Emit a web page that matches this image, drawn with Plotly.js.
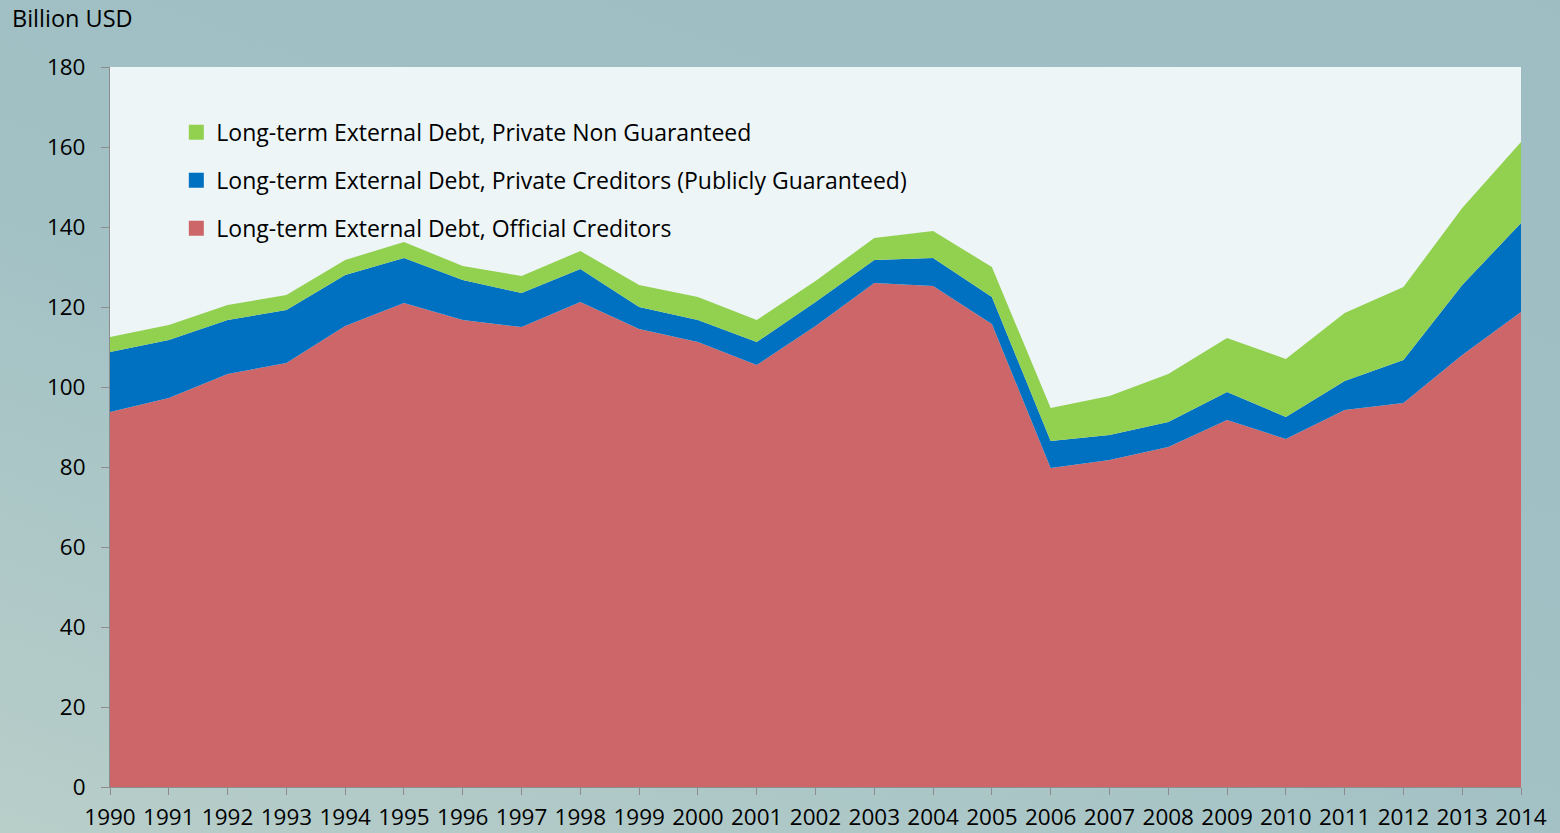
<!DOCTYPE html>
<html>
<head>
<meta charset="utf-8">
<script src="https://cdn.plot.ly/plotly-3.0.1.min.js"></script>
<style>
html,body{margin:0;padding:0;}
body{width:1560px;height:833px;background:linear-gradient(200deg,#9dbdc3 0%,#a2c1c5 55%,#b8cec9 100%);}
#chart{width:1560px;height:833px;}
</style>
</head>
<body>
<div id="chart"></div>
<script>
const years = [1990,1991,1992,1993,1994,1995,1996,1997,1998,1999,2000,2001,2002,2003,2004,2005,2006,2007,2008,2009,2010,2011,2012,2013,2014];
const officialCreditors = [93.75,97.25,103.25,106,115.25,121,116.75,115,121.25,114.5,111.25,105.5,115.25,126,125.25,115.75,79.75,81.75,85,91.75,87,94.25,96,108,118.75];
const privateCreditorsPG = [15,14.5,13.5,13.25,12.75,11.25,10,8.5,8.25,5.5,5.5,5.75,6,5.75,7,6.75,6.75,6.25,6.25,7,5.5,7.25,10.75,17.5,22.25];
const privateNonGuaranteed = [3.75,3.75,3.75,3.75,3.75,4,3.5,4.25,4.5,5.5,5.75,5.5,5.25,5.5,6.75,7.5,8.25,9.75,12,13.5,14.5,17,18.25,19.25,20.25];
const seriesNames = [
  "Long-term External Debt, Official Creditors",
  "Long-term External Debt, Private Creditors (Publicly Guaranteed)",
  "Long-term External Debt, Private Non Guaranteed"
];
const seriesColors = ["#cd6668","#0070c0","#92d050"];
const yTicks = [0,20,40,60,80,100,120,140,160,180];

const dataSets = [officialCreditors, privateCreditorsPG, privateNonGuaranteed];
const traces = dataSets.map((vals,i)=>({
  type:'scatter', mode:'lines', x:years, y:vals, name:seriesNames[i],
  stackgroup:'one', showlegend:false,
  line:{width:0,color:seriesColors[i]}, fillcolor:seriesColors[i]
}));
// legend entries with square keys (top to bottom: green, blue, red)
[2,1,0].forEach((i,k)=>{
  traces.push({type:'scatter', mode:'markers', x:[null], y:[null], name:seriesNames[i],
    legendgroup:'g'+k, showlegend:true,
    marker:{symbol:'square', size:15, color:seriesColors[i], line:{width:0}}});
});

const fontFam = "Open Sans, Liberation Sans, sans-serif";
const layout = {
  width:1560, height:833,
  margin:{l:110, r:39, t:67, b:46},
  paper_bgcolor:'rgba(0,0,0,0)',
  plot_bgcolor:'#edf5f7',
  font:{family:fontFam, size:23, color:'#000'},
  showlegend:true,
  legend:{x:0.047, y:0.939, xanchor:'left', yanchor:'top', bgcolor:'rgba(0,0,0,0)',
    traceorder:'grouped', tracegroupgap:15, font:{size:23, family:fontFam}, itemwidth:30},
  xaxis:{range:[1990,2014], tickmode:'array', tickvals:years, ticktext:years.map(String),
    showgrid:false, zeroline:false, showline:true, linecolor:'#8c8c8c', linewidth:1,
    ticks:'outside', ticklen:7, tickcolor:'#8c8c8c', tickangle:0, tickfont:{size:22.5},
    ticklabelstandoff:3},
  yaxis:{range:[0,180], tickmode:'array', tickvals:yTicks, showgrid:false, zeroline:false,
    showline:true, linecolor:'#8c8c8c', linewidth:1, ticks:'outside', ticklen:8, tickcolor:'#8c8c8c',
    tickfont:{size:22.5}, ticklabelstandoff:11},
  annotations:[{text:'Billion USD', xref:'paper', yref:'paper', x:-0.071, y:1.068, xanchor:'left', yanchor:'middle',
    showarrow:false, font:{size:23.5, family:fontFam, color:'#000'}}]
};
Plotly.newPlot('chart', traces, layout, {displayModeBar:false, staticPlot:true});
</script>
</body>
</html>
